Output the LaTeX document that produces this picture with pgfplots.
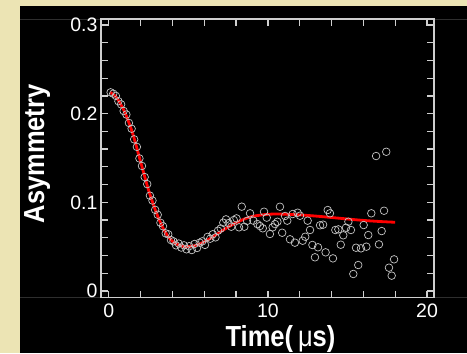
\documentclass[border=0pt]{standalone}
\usepackage{pgfplots}
\pgfplotsset{compat=1.18}
\usepackage{fontspec}
\setmainfont{Liberation Sans}
\newfontfamily\condfont{Liberation Sans}[FakeStretch=0.88]
\definecolor{paper}{HTML}{ECE4B4}
\definecolor{frame}{HTML}{CFCFCF}
\definecolor{dots}{HTML}{C4C4C4}
\definecolor{faint}{HTML}{2E2E2E}

% muon spin relaxation: measured asymmetry
\pgfplotstableread{
t a
0.12 0.2240
0.285 0.2225
0.45 0.2200
0.61 0.2140
0.78 0.2105
0.94 0.2030
1.11 0.1990
1.27 0.1895
1.44 0.1830
1.60 0.1710
1.77 0.1625
1.93 0.1495
2.09 0.1410
2.26 0.1285
2.42 0.1205
2.59 0.1075
2.75 0.1020
2.92 0.0915
3.08 0.0860
3.25 0.0770
3.41 0.0730
3.58 0.0650
3.74 0.0640
3.91 0.0575
4.07 0.0560
4.23 0.0515
4.40 0.0535
4.56 0.0490
4.73 0.0515
4.89 0.0470
5.06 0.0505
5.22 0.0462
5.39 0.0530
5.55 0.0485
5.72 0.0545
5.88 0.0560
6.05 0.0520
6.21 0.0610
6.38 0.0590
6.54 0.0640
6.71 0.0605
6.87 0.0680
7.04 0.0705
7.20 0.0770
7.37 0.0808
7.53 0.0765
7.70 0.0725
7.86 0.0800
8.03 0.0819
8.19 0.0718
8.36 0.0951
8.52 0.0725
8.69 0.0790
8.88 0.0876
9.09 0.0793
9.34 0.0755
9.50 0.0733
9.68 0.0707
9.76 0.0894
9.93 0.0827
10.13 0.0643
10.30 0.0718
10.45 0.0755
10.60 0.0781
10.76 0.0950
10.90 0.0657
11.08 0.0846
11.22 0.0793
11.39 0.0583
11.56 0.0868
11.70 0.0545
11.87 0.0883
12.02 0.0849
12.19 0.0567
12.35 0.0612
12.50 0.0793
12.65 0.0688
12.80 0.0519
12.96 0.0380
13.15 0.0493
13.28 0.0741
13.47 0.0748
13.63 0.0436
13.76 0.0913
13.90 0.0876
14.09 0.0368
14.24 0.0688
14.43 0.0695
14.58 0.0522
14.74 0.0628
14.91 0.0714
15.06 0.0781
15.22 0.0688
15.37 0.0192
15.54 0.0488
15.68 0.0293
15.85 0.0481
16.02 0.0744
16.19 0.0500
16.31 0.0631
16.50 0.0876
16.80 0.1522
16.98 0.0526
17.15 0.0676
17.30 0.0905
17.44 0.1570
17.61 0.0263
17.78 0.0173
17.93 0.0357
}\measured

% fitted relaxation curve
\pgfplotstableread{
t a
0.1 0.2240
0.5 0.2180
1.0 0.2020
1.5 0.1780
2.0 0.1460
2.5 0.1140
3.0 0.0880
3.5 0.0680
4.0 0.0560
4.5 0.0512
4.9 0.0500
5.5 0.0515
6.0 0.0555
6.5 0.0605
7.0 0.0665
7.5 0.0720
8.0 0.0770
8.5 0.0810
9.0 0.0840
9.5 0.0855
10.0 0.0865
10.5 0.0868
11.0 0.0866
12.0 0.0858
13.0 0.0845
14.0 0.0829
15.0 0.0812
16.0 0.0796
17.0 0.0784
18.0 0.0775
}\fitted

\begin{document}
\begin{tikzpicture}[x=1bp,y=1bp]
\fill[paper] (0,0) rectangle (467,353);
\fill[black] (20,0) rectangle (467,347);
\draw[faint, line width=1bp] (20,333) -- (467,333);
\draw[faint, line width=1bp] (20,55.3) -- (467,55.3);
\begin{axis}[
  at={(101bp,55.3bp)}, anchor=south west,
  width=333bp, height=278.7bp, scale only axis,
  xmin=-0.484, xmax=20.44, ymin=-0.00755, ymax=0.3067,
  axis line style={frame, line width=1.5bp},
  xtick={0,10,20}, xticklabels={0,10,20},
  minor xtick={2,4,6,8,12,14,16,18},
  ytick={0,0.1,0.2,0.3}, yticklabels={0,0.1,0.2,0.3},
  minor ytick={0.02,0.04,0.06,0.08,0.12,0.14,0.16,0.18,0.22,0.24,0.26,0.28},
  tick align=inside,
  major tick length=7bp, minor tick length=7bp,
  tick style={frame, line width=1.3bp},
  /pgf/number format/assume math mode=true,
  ticklabel style={font=\fontsize{19.5bp}{20bp}\selectfont, text=white},
  xticklabel style={yshift=-3bp},
  xlabel={Time(\,{\mdseries μ}s)},
  ylabel={Asymmetry},
  xlabel style={font=\condfont\bfseries\fontsize{29bp}{30bp}\selectfont, text=white,
    at={(axis description cs:0.539,-0.175)}, anchor=base},
  ylabel style={font=\condfont\bfseries\fontsize{29bp}{30bp}\selectfont, text=white,
    at={(axis description cs:-0.171,0.516)}, anchor=base},
]
\addplot[only marks, mark=o, mark size=3.8bp,
  mark options={draw=dots, line width=0.7bp}] table[x=t, y=a] {\measured};
\addplot[red, line width=2.8bp, smooth] table[x=t, y=a] {\fitted};
\end{axis}
\pgfresetboundingbox
\path[use as bounding box] (0,0) rectangle (467,353);
\end{tikzpicture}
\end{document}
